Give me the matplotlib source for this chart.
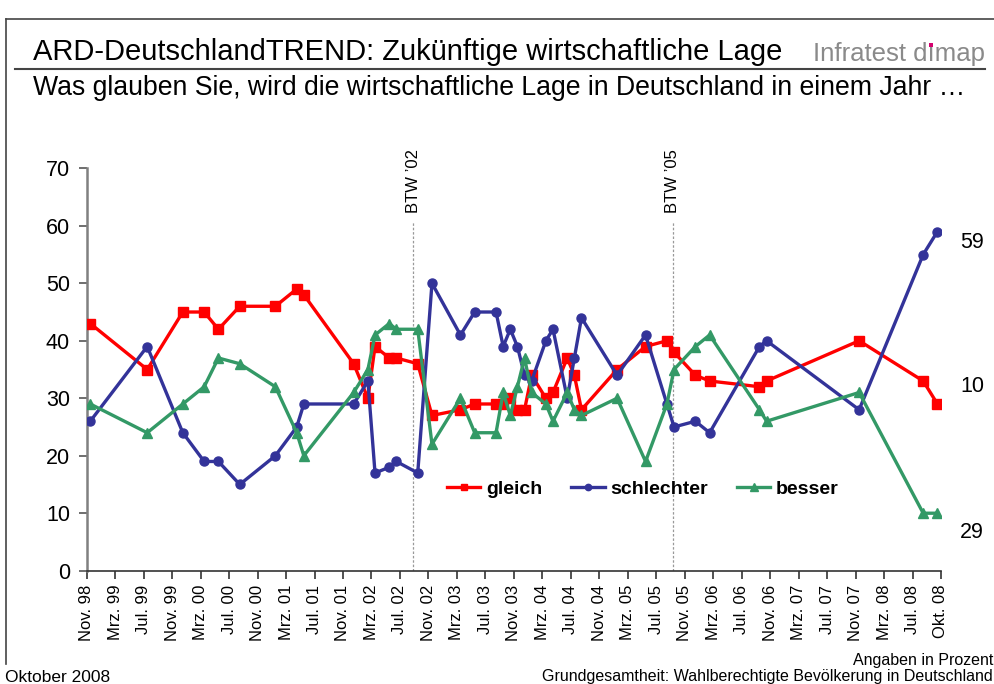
import matplotlib
matplotlib.use("Agg")
import matplotlib.pyplot as plt
from matplotlib.lines import Line2D

plt.rcParams['font.family'] = ['Liberation Sans', 'DejaVu Sans']

# months since Nov. 98
months = [0, 8, 13, 16, 18, 21, 26, 29, 30, 37,
          39, 40, 42, 43, 46, 48, 52, 54, 57, 58,
          59, 60, 61, 62, 64, 65, 67, 68, 69, 74,
          78, 81, 82, 85, 87, 94, 95, 108, 117, 119]

gleich = [43, 35, 45, 45, 42, 46, 46, 49, 48, 36,
          30, 39, 37, 37, 36, 27, 28, 29, 29, 29,
          30, 28, 28, 34, 30, 31, 37, 34, 28, 35,
          39, 40, 38, 34, 33, 32, 33, 40, 33, 29]

schlechter = [26, 39, 24, 19, 19, 15, 20, 25, 29, 29,
              33, 17, 18, 19, 17, 50, 41, 45, 45, 39,
              42, 39, 34, 33, 40, 42, 30, 37, 44, 34,
              41, 29, 25, 26, 24, 39, 40, 28, 55, 59]

besser = [29, 24, 29, 32, 37, 36, 32, 24, 20, 31,
          35, 41, 43, 42, 42, 22, 30, 24, 24, 31,
          27, 32, 37, 31, 29, 26, 31, 28, 27, 30,
          19, 29, 35, 39, 41, 28, 26, 31, 10, 10]

tick_labels = ["Nov. 98", "Mrz. 99", "Jul. 99", "Nov. 99", "Mrz. 00", "Jul. 00",
               "Nov. 00", "Mrz. 01", "Jul. 01", "Nov. 01", "Mrz. 02", "Jul. 02",
               "Nov. 02", "Mrz. 03", "Jul. 03", "Nov. 03", "Mrz. 04", "Jul. 04",
               "Nov. 04", "Mrz. 05", "Jul. 05", "Nov. 05", "Mrz. 06", "Jul. 06",
               "Nov. 06", "Mrz. 07", "Jul. 07", "Nov. 07", "Mrz. 08", "Jul. 08",
               "Okt. 08"]
tick_pos = [i * 4 - 0.5 for i in range(30)] + [119.5]

btw = [(45.4, "BTW \u201902"), (81.8, "BTW \u201905")]
end_labels = [("59", 242.7), ("10", 386.7), ("29", 533)]

fig = plt.figure(figsize=(9.94, 6.84), dpi=100)
W, H = 994, 684

def fx(px):
    return px / W

def fy(py):
    return 1 - py / H

ax = fig.add_axes([fx(86.7), fy(570.7), fx(941 - 86.7), (570.7 - 168.3) / H])

ax.plot(months, gleich, color='#FF0000', lw=2.4, marker='s', ms=6.5, label='gleich', zorder=3)
ax.plot(months, schlechter, color='#333399', lw=2.4, marker='o', ms=6.5, label='schlechter', zorder=3)
ax.plot(months, besser, color='#339966', lw=2.4, marker='^', ms=7.5, label='besser', zorder=3)

for xpos, txt in btw:
    ax.plot([xpos, xpos], [0, 60.7], color='#999999', lw=0.9, ls=(0, (2, 1.5)), zorder=1)
    ax.text(xpos, 62.3, txt, rotation=90, ha='center', va='bottom', fontsize=12)

ax.set_xlim(-0.5, 119.5)
ax.set_ylim(0, 70)
ax.set_yticks(range(0, 71, 10))
ax.set_xticks(tick_pos)
ax.set_xticklabels(tick_labels, rotation=90, fontsize=12)
ax.tick_params(axis='y', labelsize=15.5, length=6, color='#555555', width=1.2, pad=6)
ax.tick_params(axis='x', length=6, color='#333333', width=1.2, pad=4)
ax.spines['top'].set_visible(False)
ax.spines['right'].set_visible(False)
ax.spines['left'].set_color('#808080')
ax.spines['left'].set_linewidth(1.8)
ax.spines['bottom'].set_color('#333333')
ax.spines['bottom'].set_linewidth(1.2)

leg = fig.legend(loc='center', bbox_to_anchor=(fx(643), fy(489)), ncol=3, frameon=False,
                 prop={'weight': 'bold', 'size': 14}, handlelength=1.7, handletextpad=0.3,
                 columnspacing=1.5, markerscale=0.7)

for txt, py in end_labels:
    fig.text(fx(960), fy(py), txt, fontsize=15.5, va='center', ha='left')

# header
fig.text(fx(33), fy(52), "ARD-DeutschlandTREND: Zukünftige wirtschaftliche Lage",
         fontsize=21, va='center', ha='left')
fig.text(fx(33), fy(88), "Was glauben Sie, wird die wirtschaftliche Lage in Deutschland in einem Jahr \u2026",
         fontsize=19.2, va='center', ha='left')
fig.add_artist(Line2D([fx(15), fx(985)], [fy(69), fy(69)], color='#444444', lw=1.5))

# logo text, with the magenta dot on the i
logo_size = 18.5
logo_base = 61
logo = fig.text(fx(985), fy(logo_base), "Infratest d\u0131map", fontsize=logo_size, color='#8a8a8a',
                va='baseline', ha='right')
r = fig.canvas.get_renderer()
lb = logo.get_window_extent(r)
pre = fig.text(0, 0, "Infratest d", fontsize=logo_size)
ii = fig.text(0, 0, "\u0131", fontsize=logo_size)
pw = pre.get_window_extent(r).width
iw = ii.get_window_extent(r).width
pre.remove()
ii.remove()
em = logo_size * 100 / 72
dot_x = (lb.x0 + pw + iw / 2) / W
dot_y = fy(logo_base) + 0.64 * em / H
fig.add_artist(Line2D([dot_x], [dot_y], marker='s', ms=2.6, color='#d4006e', mew=0))

# frame
fig.add_artist(Line2D([fx(6), fx(6)], [fy(19), fy(664)], color='#444444', lw=1.2))
fig.add_artist(Line2D([fx(6), fx(994)], [fy(19), fy(19)], color='#444444', lw=1.2))

# footer
fig.text(fx(5), fy(677), "Oktober 2008", fontsize=12.5, va='center', ha='left')
fig.text(fx(993), fy(661), "Angaben in Prozent", fontsize=11.5, va='center', ha='right')
fig.text(fx(993), fy(677), "Grundgesamtheit: Wahlberechtigte Bevölkerung in Deutschland",
         fontsize=11.5, va='center', ha='right')

fig.savefig("out.png", dpi=100)
